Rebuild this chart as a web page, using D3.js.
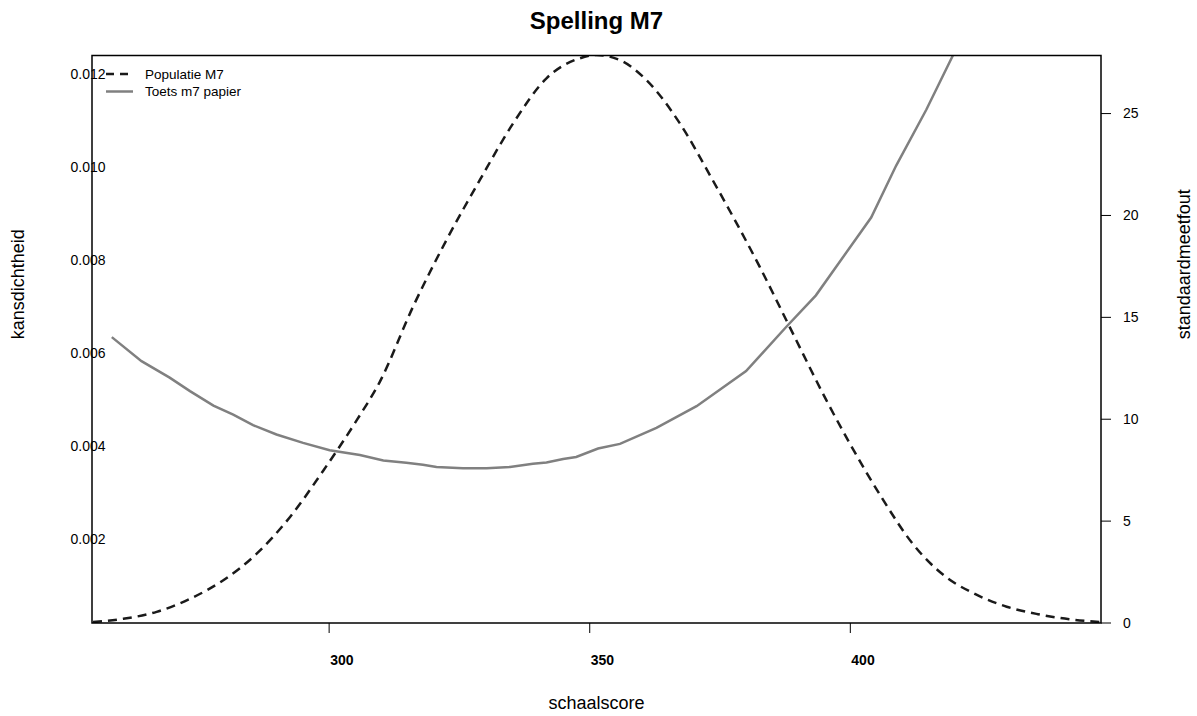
<!DOCTYPE html>
<html>
<head>
<meta charset="utf-8">
<script src="https://cdn.jsdelivr.net/npm/d3@7"></script>
<style>
  body { margin: 0; background: #fff; }
  svg { display: block; font-family: "Liberation Sans", Arial, sans-serif; }
</style>
</head>
<body>
<div id="chart"></div>
<script>
// Spelling M7: populatieverdeling (kansdichtheid) + standaardmeetfout van de toets

// dichtheid populatie M7 (linker as)
const densScore = [254.7, 260.5, 266.9, 273.3, 279.7, 286.1, 292.5, 298.9, 305.3, 309.7,
  316.1, 322.5, 328.9, 335.3, 341.7, 348.1, 351.3, 355.8, 360.9, 367.3, 373.6,
  382.6, 389.0, 395.4, 399.9, 406.0, 412.0, 418.0, 424.0, 430.0, 436.0, 442.0, 448.0];
const densValue = [0.00022, 0.00029, 0.00044, 0.00072, 0.00112, 0.00169, 0.00248, 0.00348, 0.00456, 0.00538,
  0.0070, 0.00843, 0.00972, 0.01094, 0.01191, 0.01234, 0.01241, 0.0123, 0.01187, 0.01094, 0.00972,
  0.00786, 0.00642, 0.00499, 0.00406, 0.0029, 0.0019, 0.00122, 0.00082, 0.00055, 0.00039, 0.00028, 0.00022];

// standaardmeetfout toets m7 papier (rechter as)
const semScore = [258.3, 264.0, 269.4, 273.3, 277.8, 281.6, 285.4, 289.9, 295.0, 300.1,
  305.9, 310.4, 314.8, 318.0, 320.6, 325.7, 330.2, 334.7, 339.1, 341.7, 344.9, 347.4,
  351.6, 355.8, 362.8, 370.5, 380.0, 387.6, 393.4, 404.0, 408.8, 414.6, 419.7, 424.5];
const semValue = [14.03, 12.85, 12.04, 11.38, 10.67, 10.23, 9.71, 9.25, 8.84, 8.48,
  8.24, 7.98, 7.86, 7.77, 7.66, 7.59, 7.59, 7.66, 7.81, 7.88, 8.05, 8.15,
  8.56, 8.79, 9.58, 10.64, 12.36, 14.5, 16.08, 19.9, 22.45, 25.2, 27.86, 30.4];

const xTicks = [300, 350, 400];
const leftTicks = [0.002, 0.004, 0.006, 0.008, 0.010, 0.012];
const rightTicks = [0, 5, 10, 15, 20, 25];
const legendLabels = ["Populatie M7", "Toets m7 papier"];

const width = 1197, height = 716;
const margin = { top: 55.5, right: 96, bottom: 93, left: 92 };
const W = width - margin.left - margin.right;
const H = height - margin.top - margin.bottom;

const x = d3.scaleLinear().domain([254.5, 448.1]).range([0, W]);
const yL = d3.scaleLinear().domain([0.0002, 0.0124]).range([H, 0]);
const yR = d3.scaleLinear().domain([0, 27.85]).range([H, 0]);

const svg = d3.select('#chart').append('svg')
  .attr('width', width).attr('height', height);

svg.append('defs').append('clipPath').attr('id', 'plotclip')
  .append('rect').attr('width', W).attr('height', H);

const g = svg.append('g').attr('transform', `translate(${margin.left},${margin.top})`);

// titel
svg.append('text')
  .attr('x', margin.left + W / 2).attr('y', 29)
  .attr('text-anchor', 'middle').attr('font-size', '24px').attr('font-weight', 'bold')
  .attr('fill', '#000').text('Spelling M7');

// lijnen
const dens = densScore.map((s, i) => [s, densValue[i]]);
const sem = semScore.map((s, i) => [s, semValue[i]]);

const lines = g.append('g').attr('clip-path', 'url(#plotclip)');
lines.append('path')
  .datum(sem)
  .attr('d', d3.line().x(d => x(d[0])).y(d => yR(d[1])))
  .attr('fill', 'none').attr('stroke', '#808080').attr('stroke-width', 2.5);
lines.append('path')
  .datum(dens)
  .attr('d', d3.line().x(d => x(d[0])).y(d => yL(d[1])).curve(d3.curveMonotoneX))
  .attr('fill', 'none').attr('stroke', '#1a1a1a').attr('stroke-width', 2.5)
  .attr('stroke-dasharray', '9,6');

// kader
g.append('rect').attr('width', W).attr('height', H)
  .attr('fill', 'none').attr('stroke', '#000').attr('stroke-width', 1.5);

// x-as: labels links uitgelijnd op het streepje
const xAxis = g.append('g').attr('transform', `translate(0,${H})`);
xTicks.forEach(t => {
  xAxis.append('line').attr('x1', x(t)).attr('x2', x(t)).attr('y1', 0).attr('y2', 10)
    .attr('stroke', '#000').attr('stroke-width', 1);
  xAxis.append('text').attr('x', x(t) + 1).attr('y', 42)
    .attr('font-size', '14px').attr('font-weight', 'bold').attr('fill', '#000').text(t);
});

// linker as: labels over de aslijn heen, geen streepjes
leftTicks.forEach(t => {
  g.append('text').attr('x', -4).attr('y', yL(t)).attr('dy', '0.35em')
    .attr('text-anchor', 'middle').attr('font-size', '14px').attr('fill', '#000')
    .text(d3.format('.3f')(t));
});

// rechter as
rightTicks.forEach(t => {
  g.append('line').attr('x1', W).attr('x2', W + 10).attr('y1', yR(t)).attr('y2', yR(t))
    .attr('stroke', '#000').attr('stroke-width', 1);
  g.append('text').attr('x', W + 22).attr('y', yR(t)).attr('dy', '0.35em')
    .attr('font-size', '14px').attr('fill', '#000').text(t);
});

// astitels
svg.append('text')
  .attr('x', margin.left + W / 2).attr('y', 709)
  .attr('text-anchor', 'middle').attr('font-size', '18px').text('schaalscore');
svg.append('text')
  .attr('transform', `translate(24,${margin.top + H / 2}) rotate(-90)`)
  .attr('text-anchor', 'start').attr('font-size', '18px').text('kansdichtheid');
svg.append('text')
  .attr('transform', `translate(1190,${margin.top + H / 2}) rotate(-90)`)
  .attr('text-anchor', 'start').attr('font-size', '18px').text('standaardmeetfout');

// legenda
const legend = g.append('g').attr('transform', 'translate(14,18.5)');
legendLabels.forEach((lab, i) => {
  const ly = i * 17.5;
  legend.append('line').attr('x1', 0).attr('x2', 27).attr('y1', ly).attr('y2', ly)
    .attr('stroke', i === 0 ? '#1a1a1a' : '#808080').attr('stroke-width', 2.5)
    .attr('stroke-dasharray', i === 0 ? '8,6' : null);
  legend.append('text').attr('x', 39).attr('y', ly).attr('dy', '0.35em')
    .attr('font-size', '13.5px').attr('fill', '#000').text(lab);
});
</script>
</body>
</html>
